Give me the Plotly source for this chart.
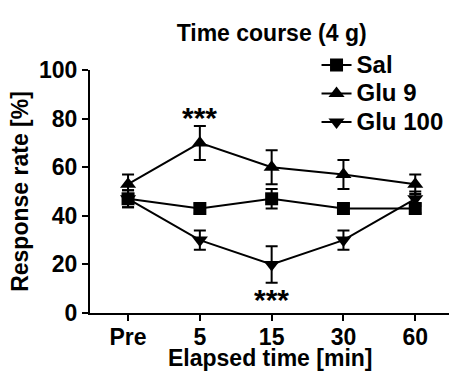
import plotly.graph_objects as go

categories = ["Pre", "5", "15", "30", "60"]
sal = [47, 43, 47, 43, 43]
sal_err = [3.5, 2, 4, 2, 2]
glu9 = [53, 70, 60, 57, 53]
glu9_err = [4, 7, 7, 6, 4]
glu100 = [47, 30, 20, 30, 47]
glu100_err = [3.5, 4, 7.5, 4, 3]

series = [
    ("Sal", sal, sal_err, "square", 13),
    ("Glu 9", glu9, glu9_err, "triangle-up", 14),
    ("Glu 100", glu100, glu100_err, "triangle-down", 14),
]

FS = 23
FONT = dict(family="Liberation Sans, Arial, sans-serif", color="black", size=FS, weight="bold")

fig = go.Figure()
for name, y, err, sym, sz in series:
    fig.add_trace(go.Scatter(
        x=categories, y=y, name='<span style="font-size:24px">%s</span>' % name,
        mode="lines+markers",
        line=dict(color="black", width=2),
        marker=dict(symbol=sym, size=sz, color="black"),
        error_y=dict(type="data", array=err, color="black", thickness=2, width=6),
    ))

i5 = categories.index("5")
i15 = categories.index("15")
fig.add_annotation(x=i5, y=glu9[i5] + glu9_err[i5], yanchor="bottom", text="***", showarrow=False,
                   font=dict(FONT, size=30), yshift=-10)
fig.add_annotation(x=i15, y=glu100[i15] - glu100_err[i15], yanchor="top", text="***", showarrow=False,
                   font=dict(FONT, size=30), yshift=2)
# x-axis title
fig.add_annotation(xref="paper", yref="paper", x=0.5, y=-0.187, xanchor="center", yanchor="middle",
                   text="Elapsed time [min]", showarrow=False, font=dict(FONT, size=FS))

fig.update_layout(
    width=449, height=374,
    margin=dict(l=90, r=0, t=70, b=61, autoexpand=False),
    paper_bgcolor="white", plot_bgcolor="white",
    font=FONT,
    title=dict(text="Time course (4 g)", x=0.605, xanchor="center", y=0.912, yanchor="middle",
               font=dict(FONT, size=FS)),
    showlegend=True,
    legend=dict(x=0.631, xanchor="left", y=1.10, yanchor="top", bgcolor="rgba(0,0,0,0)",
                font=dict(FONT, size=19.6), itemwidth=30),
    xaxis=dict(type="category", range=[-0.53, 4.47], showline=True, linecolor="black", linewidth=2,
               ticks="outside", ticklen=6, tickwidth=2, tickcolor="black", showgrid=False, zeroline=False,
               automargin=False, ticklabelstandoff=-4),
    yaxis=dict(range=[0, 100], tickvals=[0, 20, 40, 60, 80, 100], showline=True, linecolor="black",
               linewidth=2, ticks="outside", ticklen=6, tickwidth=2, tickcolor="black",
               showgrid=False, zeroline=False, automargin=False,
               title=dict(text="Response rate [%]", font=dict(FONT, size=FS), standoff=4)),
)

fig.write_html("out.html", config={"displayModeBar": False},
               post_script="document.body.style.margin='0';")
